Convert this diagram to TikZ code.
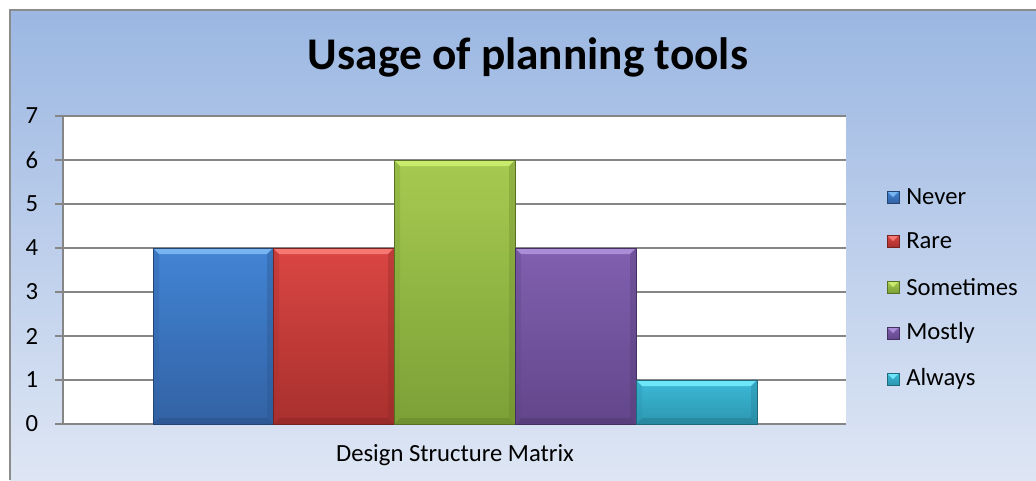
\documentclass[tikz,border=0pt]{standalone}
\usepackage{fontspec}
\setmainfont{Carlito}
\definecolor{bgtop}{RGB}{155,183,226}
\definecolor{bgbot}{RGB}{222,230,244}
\definecolor{gridc}{RGB}{134,134,134}
\definecolor{framec}{RGB}{140,140,140}
\definecolor{nevt}{RGB}{66,132,212}\definecolor{nevb}{RGB}{50,98,164}\definecolor{nevh}{RGB}{120,180,240}
\definecolor{rart}{RGB}{218,70,67}\definecolor{rarb}{RGB}{168,48,46}\definecolor{rarh}{RGB}{245,120,115}
\definecolor{somt}{RGB}{166,202,80}\definecolor{somb}{RGB}{124,160,54}\definecolor{somh}{RGB}{200,235,110}
\definecolor{most}{RGB}{128,96,176}\definecolor{mosb}{RGB}{98,70,138}\definecolor{mosh}{RGB}{170,140,215}
\definecolor{alwt}{RGB}{60,186,216}\definecolor{alwb}{RGB}{44,150,176}\definecolor{alwh}{RGB}{110,230,250}
\tikzset{
  ticklabel/.style={font=\fontsize{18.5}{20}\selectfont, anchor=center},
  legendlabel/.style={font=\fontsize{18.5}{20}\selectfont, anchor=west, inner sep=0pt},
  gridline/.style={draw=gridc, line width=1.1pt},
}
\newcommand\chartbar[4]{% x0, x1, ytop, colour prefix
  \shade[top color=#4t, bottom color=#4b] (#1,#3) rectangle (#2,424);
  \fill[#4h] (#1,#3) -- (#2,#3) -- ({#2-6},{#3+6}) -- ({#1+6},{#3+6}) -- cycle;
  \fill[#4b!80!black, opacity=0.45] (#1,424) -- (#2,424) -- ({#2-6},418) -- ({#1+6},418) -- cycle;
  \fill[#4b, opacity=0.35] (#1,#3) -- ({#1+6},{#3+6}) -- ({#1+6},418) -- (#1,424) -- cycle;
  \fill[#4b!85!black, opacity=0.35] (#2,#3) -- ({#2-6},{#3+6}) -- ({#2-6},418) -- (#2,424) -- cycle;
  \draw[#4b!70!black, line width=0.5pt] (#1,#3) rectangle (#2,424);
}
\newcommand\legendbox[2]{% y, colour prefix
  \shade[top color=#2t, bottom color=#2b] (887,{#1-6}) rectangle (899,{#1+6});
  \fill[#2h] (887,{#1-6}) -- (899,{#1-6}) -- (893,#1) -- cycle;
  \draw[#2b!70!black, line width=0.4pt] (887,{#1-6}) rectangle (899,{#1+6});
}
\begin{document}
\begin{tikzpicture}[x=0.75pt,y=-0.75pt]
\useasboundingbox (0,0) rectangle (1036,480);
\fill[white] (0,0) rectangle (1036,480);
\shade[top color=bgtop, bottom color=bgbot] (10,10) rectangle (1036,480);
\draw[framec, line width=1.2pt] (10,480) -- (10,10) -- (1036,10);
% title
\node[font=\fontsize{34}{36}\selectfont\bfseries] (title) at (528,57) {Usage of planning tools};
% plot area
\fill[white] (63,116) rectangle (846,424);
\foreach \v in {1,...,7} {
  \draw[gridline] (55,{424-44*\v}) -- (846,{424-44*\v});
}
\draw[gridline] (55,424) -- (846,424);
\draw[gridline] (63,116) -- (63,424);
\foreach \v in {0,...,7} {
  \node[ticklabel] (tick\v) at (32,{424-44*\v}) {\v};
}
% bars
\chartbar{153}{273}{248}{nev}
\chartbar{273}{394}{248}{rar}
\chartbar{394}{515}{160}{som}
\chartbar{515}{636}{248}{mos}
\chartbar{636}{757}{380}{alw}
% axis label
\node[font=\fontsize{18.5}{20}\selectfont] (xlabel) at (455,455) {Design Structure Matrix};
% legend
\legendbox{197}{nev}\node[legendlabel] (lnev) at (906,197) {Never};
\legendbox{241}{rar}\node[legendlabel] (lrar) at (906,241) {Rare};
\legendbox{287}{som}\node[legendlabel] (lsom) at (906,287) {Sometimes};
\legendbox{333}{mos}\node[legendlabel] (lmos) at (906,333) {Mostly};
\legendbox{379}{alw}\node[legendlabel] (lalw) at (906,379) {Always};
\end{tikzpicture}
\end{document}
